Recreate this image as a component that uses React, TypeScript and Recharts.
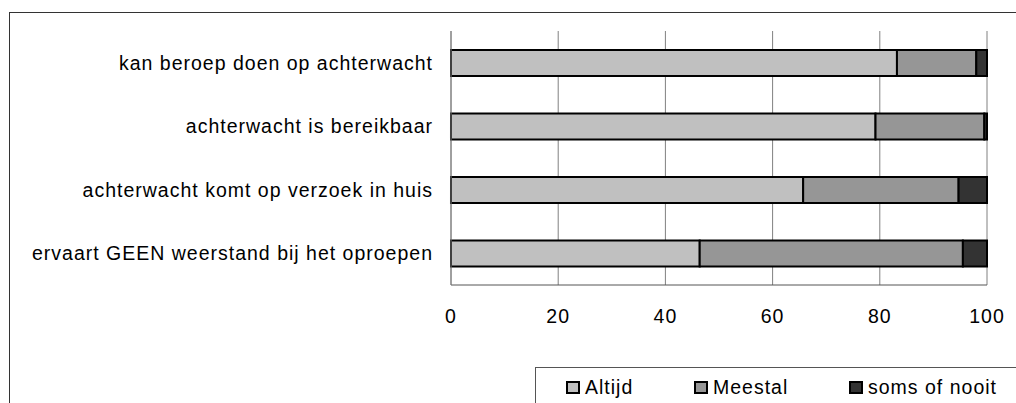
import { BarChart, Bar, XAxis, YAxis, CartesianGrid } from "recharts";

const categories = [
  "kan beroep doen op achterwacht",
  "achterwacht is bereikbaar",
  "achterwacht komt op verzoek in huis",
  "ervaart GEEN weerstand bij het oproepen",
];
const altijd = [83.2, 79.2, 65.7, 46.4];
const meestal = [14.8, 20.3, 29.0, 49.1];
const somsOfNooit = [2.0, 0.5, 5.3, 4.5];
const xTicks = [0, 20, 40, 60, 80, 100];

const series = [
  { key: "Altijd", color: "#C0C0C0" },
  { key: "Meestal", color: "#969696" },
  { key: "soms of nooit", color: "#333333" },
];

const data = categories.map((name, i) => ({
  name,
  Altijd: altijd[i],
  Meestal: meestal[i],
  "soms of nooit": somsOfNooit[i],
}));

const FONT = "'Liberation Sans', Arial, sans-serif";
const GRID = "#808080";
const LEGEND_X = [30, 158, 313];

const tickStyle = { fontSize: 19.5, fill: "#000", fontFamily: FONT, letterSpacing: 1 };

function LegendBox() {
  return (
    <div
      style={{
        position: "absolute",
        left: 535,
        top: 367,
        width: 600,
        height: 80,
        border: "1px solid #555",
        background: "#fff",
        fontFamily: FONT,
        fontSize: 19.5,
        letterSpacing: 1,
      }}
    >
      {series.map((s, i) => (
        <div
          key={s.key}
          style={{ position: "absolute", left: LEGEND_X[i], top: 8, display: "flex", alignItems: "center", whiteSpace: "nowrap" }}
        >
          <span
            style={{
              display: "inline-block",
              width: 10,
              height: 9,
              border: "2px solid #000",
              background: s.color,
              marginRight: 5,
            }}
          />
          <span>{s.key}</span>
        </div>
      ))}
    </div>
  );
}

export default function App() {
  return (
    <div style={{ position: "absolute", left: 0, top: 0, width: 1016, height: 403, overflow: "hidden", background: "#fff" }}>
      <div
        style={{
          position: "absolute",
          left: 9,
          top: 12,
          width: 1100,
          height: 500,
          borderLeft: "1px solid #333",
          borderTop: "1px solid #333",
        }}
      />
      <div style={{ position: "absolute", left: 0, top: 0 }}>
        <BarChart
          width={1016}
          height={403}
          data={data}
          layout="vertical"
          barSize={26}
          margin={{ top: 31, right: 29, bottom: 78, left: 0 }}
        >
          <CartesianGrid horizontal={false} stroke={GRID} />
          <XAxis
            type="number"
            domain={[0, 100]}
            ticks={xTicks}
            height={40}
            tickLine={false}
            tickSize={0}
            tickMargin={24}
            axisLine={{ stroke: "#555" }}
            tick={tickStyle}
            interval={0}
          />
          <YAxis
            type="category"
            dataKey="name"
            width={451}
            tickLine={false}
            tickSize={0}
            tickMargin={18}
            axisLine={{ stroke: GRID }}
            tick={tickStyle}
            interval={0}
          />
          {series.map((s) => (
            <Bar
              key={s.key}
              dataKey={s.key}
              stackId="a"
              fill={s.color}
              stroke="#000"
              strokeWidth={2}
              isAnimationActive={false}
            />
          ))}
        </BarChart>
      </div>
      <LegendBox />
    </div>
  );
}
